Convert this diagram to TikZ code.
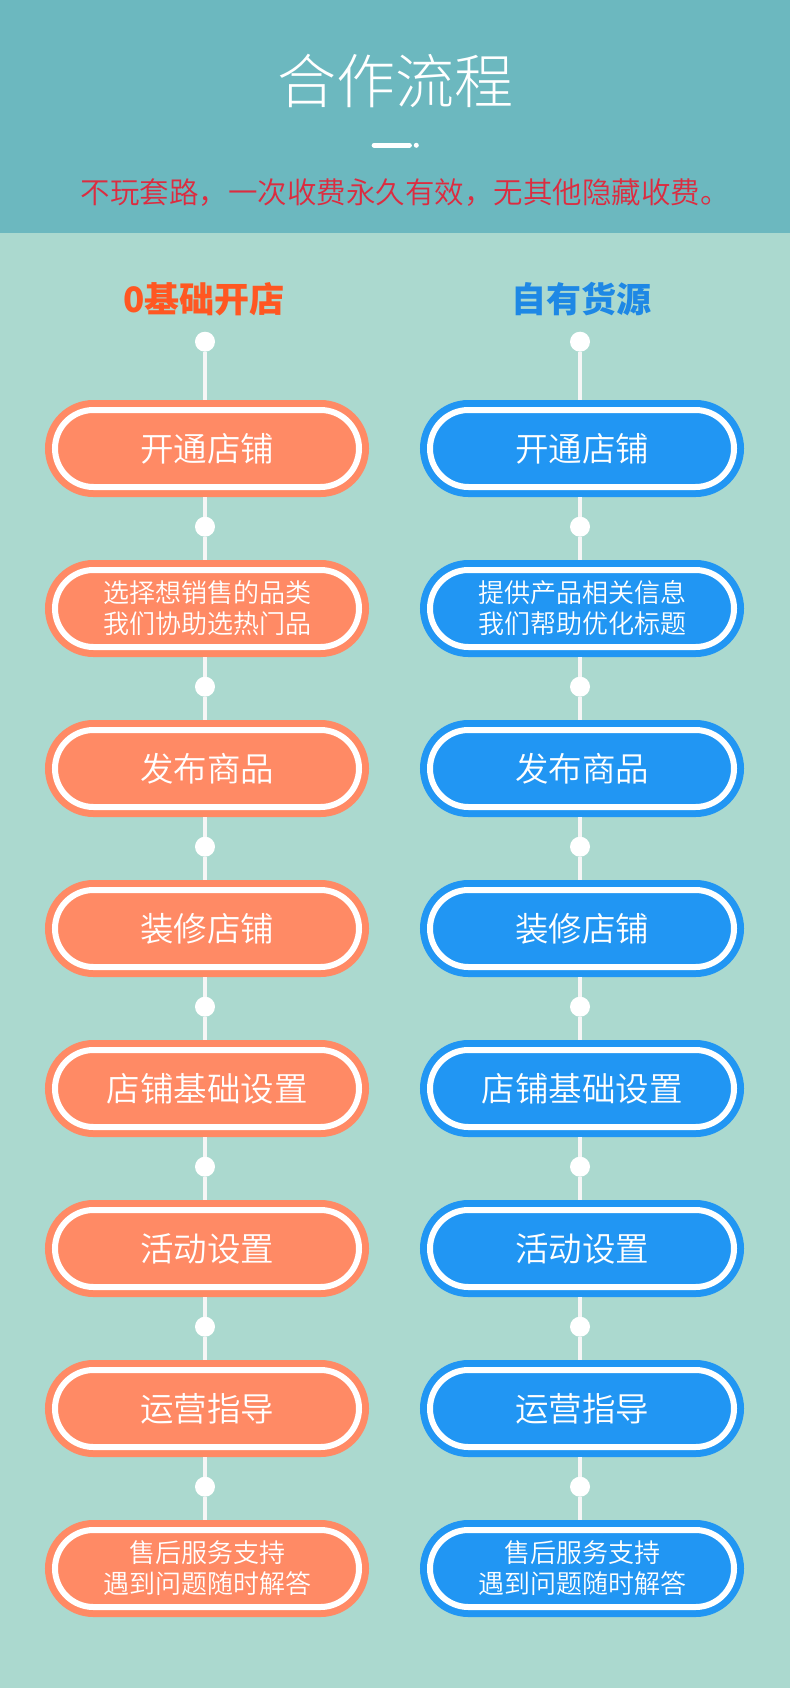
\documentclass[tikz,border=0pt]{standalone}
\usepackage{fontspec}
\setmainfont{Noto Sans CJK SC}
\newfontfamily\cjklight{Noto Sans CJK SC Light}
\newfontfamily\cjkdemi{Noto Sans CJK SC DemiLight}
\definecolor{headbg}{HTML}{6CB8BF}
\definecolor{lowbg}{HTML}{ABD9CF}
\definecolor{coral}{HTML}{FF8A65}
\definecolor{skyblue}{HTML}{2196F3}
\definecolor{orangetxt}{HTML}{FF5722}
\definecolor{bluetxt}{HTML}{1E88E5}
\definecolor{redtxt}{HTML}{DC2C40}
\definecolor{linewhite}{HTML}{F6F6F6}
\begin{document}
\begin{tikzpicture}[x=1pt,y=-1pt,
  pill/.style={rectangle, rounded corners=38.5pt, minimum width=304pt, minimum height=77pt,
    fill=#1, draw=white, line width=6pt, preaction={draw=#1, line width=20pt},
    text=white, align=center, inner sep=0pt, outer sep=0pt, font=\cjkdemi\fontsize{33.5}{40}\selectfont},
  pilltwo/.style={font=\cjkdemi\fontsize{26}{31}\selectfont},
  jdot/.style={circle, fill=white, minimum size=20pt, inner sep=0pt, outer sep=0pt},
  conn/.style={draw=linewhite, line width=4pt},
  colhead/.style={font=\bfseries\fontsize{35}{40}\selectfont, inner sep=0pt}]
\useasboundingbox (0,0) rectangle (790,1688);
\fill[lowbg] (0,0) rectangle (790,1688);
\fill[headbg] (0,0) rectangle (790,233);
% header
\node[text=white, font=\cjklight\fontsize{59}{64}\selectfont, inner sep=0pt] (title) at (395,81) {合作流程};
\draw[white, line width=4.7pt, line cap=round] (374,145.3) -- (409.5,145.3);
\fill[white] (416.3,145.3) circle (2.5);
\node[text=redtxt, font=\cjkdemi\fontsize{29.5}{34}\selectfont, inner sep=0pt] (sub) at (405,193) {不玩套路，一次收费永久有效，无其他隐藏收费。};
% column heads
\node[colhead, text=orangetxt] (lh) at (204,299) {0基础开店};
\node[colhead, text=bluetxt] (rh) at (581,299) {自有货源};
% left column
\node[jdot] (Ld0) at (205,341.7) {};
\node[pill=coral] (L1) at (207,448.5) {开通店铺};
\node[jdot] (Ld1) at (205,526.7) {};
\node[pill=coral, pilltwo] (L2) at (207,608.5) {选择想销售的品类\\我们协助选热门品};
\node[jdot] (Ld2) at (205,686.7) {};
\node[pill=coral] (L3) at (207,768.5) {发布商品};
\node[jdot] (Ld3) at (205,846.7) {};
\node[pill=coral] (L4) at (207,928.5) {装修店铺};
\node[jdot] (Ld4) at (205,1006.7) {};
\node[pill=coral] (L5) at (207,1088.5) {店铺基础设置};
\node[jdot] (Ld5) at (205,1166.7) {};
\node[pill=coral] (L6) at (207,1248.5) {活动设置};
\node[jdot] (Ld6) at (205,1326.7) {};
\node[pill=coral] (L7) at (207,1408.5) {运营指导};
\node[jdot] (Ld7) at (205,1486.7) {};
\node[pill=coral, pilltwo] (L8) at (207,1568.5) {售后服务支持\\遇到问题随时解答};
% right column
\node[jdot] (Rd0) at (580,341.7) {};
\node[pill=skyblue] (R1) at (582,448.5) {开通店铺};
\node[jdot] (Rd1) at (580,526.7) {};
\node[pill=skyblue, pilltwo] (R2) at (582,608.5) {提供产品相关信息\\我们帮助优化标题};
\node[jdot] (Rd2) at (580,686.7) {};
\node[pill=skyblue] (R3) at (582,768.5) {发布商品};
\node[jdot] (Rd3) at (580,846.7) {};
\node[pill=skyblue] (R4) at (582,928.5) {装修店铺};
\node[jdot] (Rd4) at (580,1006.7) {};
\node[pill=skyblue] (R5) at (582,1088.5) {店铺基础设置};
\node[jdot] (Rd5) at (580,1166.7) {};
\node[pill=skyblue] (R6) at (582,1248.5) {活动设置};
\node[jdot] (Rd6) at (580,1326.7) {};
\node[pill=skyblue] (R7) at (582,1408.5) {运营指导};
\node[jdot] (Rd7) at (580,1486.7) {};
\node[pill=skyblue, pilltwo] (R8) at (582,1568.5) {售后服务支持\\遇到问题随时解答};
% connectors
\foreach \s in {L,R}{
  \foreach \i [evaluate=\i as \n using int(\i+1)] in {0,...,7}{
    \draw[conn, shorten >=10pt] (\s d\i) -- (\s d\i |- \s\n.north);
  }
  \foreach \i [evaluate=\i as \n using int(\i+1)] in {1,...,7}{
    \draw[conn, shorten <=10pt] (\s\i.south -| \s d\i) -- (\s d\i);
  }
}
\end{tikzpicture}
\end{document}
